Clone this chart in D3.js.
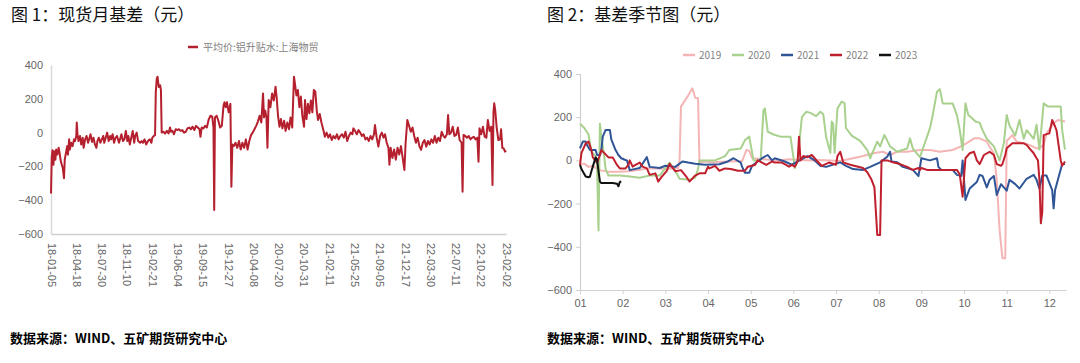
<!DOCTYPE html>
<html lang="zh">
<head>
<meta charset="UTF-8" />
<title>基差图</title>
<script src="https://cdnjs.cloudflare.com/ajax/libs/d3/7.8.5/d3.min.js"></script>
<style>
  html, body { margin: 0; padding: 0; background: #fff; }
  svg { display: block; }
  .title { font-family: "Noto Sans CJK SC", sans-serif; font-size: 17px; fill: #111; }
  .source { font-family: "Noto Sans CJK SC", sans-serif; font-size: 13px; font-weight: bold; fill: #000; }
  .legend { font-family: "Noto Sans CJK SC", "Liberation Sans", sans-serif; font-size: 10px; fill: #7f7f7f; }
  .tick text { font-family: "Liberation Sans", Arial, sans-serif; font-size: 11px; fill: #666; }
</style>
</head>
<body>
<div id="chart"></div>
<script>
// ---- chart 1: 平均价:铝升贴水:上海物贸 ----
const basis = [
  ["2018-01-05",-360],["2018-01-08",-150],["2018-01-11",-105],["2018-01-15",-190],["2018-01-18",-110],
  ["2018-01-23",-160],["2018-01-26",-100],["2018-01-31",-130],["2018-02-05",-90],["2018-02-09",-120],
  ["2018-02-14",-170],["2018-02-22",-210],["2018-02-27",-270],["2018-03-02",-160],["2018-03-07",-120],
  ["2018-03-12",-80],["2018-03-15",-130],["2018-03-20",-40],["2018-03-23",-100],["2018-03-28",-60],
  ["2018-04-03",-80],["2018-04-09",-40],["2018-04-13",-50],["2018-04-18",-20],["2018-04-20",60],
  ["2018-04-23",-10],["2018-04-27",-50],["2018-05-03",-20],["2018-05-08",-70],["2018-05-14",-30],
  ["2018-05-18",-90],["2018-05-24",-40],["2018-05-30",-20],["2018-06-05",-60],["2018-06-11",-30],
  ["2018-06-15",-10],["2018-06-21",-55],["2018-06-27",-30],["2018-07-03",-70],["2018-07-09",-90],
  ["2018-07-13",-50],["2018-07-19",-30],["2018-07-25",-60],["2018-07-31",-40],["2018-08-06",-20],
  ["2018-08-10",-60],["2018-08-16",-30],["2018-08-22",0],["2018-08-28",-50],["2018-09-03",-20],
  ["2018-09-07",-40],["2018-09-13",-10],["2018-09-19",-60],["2018-09-25",-30],["2018-10-01",-20],
  ["2018-10-09",-60],["2018-10-15",-30],["2018-10-19",-10],["2018-10-25",-50],["2018-10-31",-40],
  ["2018-11-06",10],["2018-11-12",-50],["2018-11-16",-20],["2018-11-22",-70],["2018-11-28",-30],
  ["2018-12-04",10],["2018-12-10",-60],["2018-12-14",-20],["2018-12-20",0],["2018-12-26",-50],
  ["2019-01-03",-60],["2019-01-09",-50],["2019-01-15",-60],["2019-01-21",-40],["2019-01-28",-70],
  ["2019-02-04",-50],["2019-02-12",-40],["2019-02-18",-60],["2019-02-22",-30],["2019-02-28",-20],
  ["2019-03-05",-15],["2019-03-08",240],["2019-03-12",320],["2019-03-15",331],["2019-03-20",270],
  ["2019-03-26",280],["2019-03-29",250],["2019-04-01",0],["2019-04-08",5],["2019-04-15",-5],
  ["2019-04-22",10],["2019-04-29",-5],["2019-05-05",30],["2019-05-09",5],["2019-05-15",10],
  ["2019-05-21",-10],["2019-05-28",20],["2019-06-04",15],["2019-06-10",20],["2019-06-17",10],
  ["2019-06-24",15],["2019-07-01",0],["2019-07-08",5],["2019-07-15",25],["2019-07-22",30],
  ["2019-07-29",20],["2019-08-05",35],["2019-08-12",15],["2019-08-19",40],["2019-08-26",30],
  ["2019-09-02",20],["2019-09-06",-25],["2019-09-11",30],["2019-09-18",25],["2019-09-25",40],
  ["2019-10-02",30],["2019-10-10",80],["2019-10-17",100],["2019-10-24",95],["2019-10-29",30],
  ["2019-11-01",-458],["2019-11-04",90],["2019-11-11",100],["2019-11-18",70],["2019-11-25",30],
  ["2019-12-02",40],["2019-12-09",160],["2019-12-13",180],["2019-12-18",150],["2019-12-23",180],
  ["2019-12-30",120],["2020-01-06",170],["2020-01-10",-320],["2020-01-14",-70],["2020-01-20",-80],
  ["2020-01-27",-60],["2020-02-03",-90],["2020-02-10",-50],["2020-02-17",-100],["2020-02-24",-60],
  ["2020-03-02",-90],["2020-03-09",-40],["2020-03-16",-100],["2020-03-23",-50],["2020-03-30",-15],
  ["2020-04-06",0],["2020-04-13",20],["2020-04-20",40],["2020-04-27",65],["2020-05-04",100],
  ["2020-05-11",60],["2020-05-18",232],["2020-05-22",90],["2020-05-27",130],["2020-06-01",90],
  ["2020-06-05",-90],["2020-06-10",193],["2020-06-17",150],["2020-06-24",232],["2020-07-01",190],
  ["2020-07-08",272],["2020-07-13",200],["2020-07-18",100],["2020-07-24",35],["2020-07-30",80],
  ["2020-08-05",25],["2020-08-12",70],["2020-08-18",10],["2020-08-25",60],["2020-09-01",20],
  ["2020-09-07",90],["2020-09-14",30],["2020-09-21",331],["2020-09-25",290],["2020-10-01",220],
  ["2020-10-07",252],["2020-10-13",150],["2020-10-19",213],["2020-10-25",100],["2020-11-01",35],
  ["2020-11-05",193],["2020-11-11",80],["2020-11-17",170],["2020-11-23",114],["2020-11-29",190],
  ["2020-12-05",120],["2020-12-11",252],["2020-12-17",242],["2020-12-23",130],["2020-12-28",75],
  ["2021-01-04",110],["2021-01-11",60],["2021-01-18",20],["2021-01-25",-24],["2021-02-01",0],
  ["2021-02-08",-30],["2021-02-15",-10],["2021-02-22",-44],["2021-03-01",-20],["2021-03-08",-35],
  ["2021-03-15",-10],["2021-03-22",-40],["2021-03-29",-20],["2021-04-05",-10],["2021-04-12",-30],
  ["2021-04-19",5],["2021-04-26",-50],["2021-05-03",-20],["2021-05-10",0],["2021-05-17",-10],
  ["2021-05-21",25],["2021-05-28",10],["2021-06-04",-10],["2021-06-11",15],["2021-06-18",0],
  ["2021-06-25",-20],["2021-07-02",-10],["2021-07-09",-40],["2021-07-16",-30],["2021-07-23",-50],
  ["2021-07-30",-20],["2021-08-06",-40],["2021-08-13",-10],["2021-08-17",45],["2021-08-24",-30],
  ["2021-08-31",-83],["2021-09-07",-20],["2021-09-14",0],["2021-09-21",-30],["2021-09-27",-10],
  ["2021-10-04",-60],["2021-10-11",-90],["2021-10-15",-190],["2021-10-20",-90],["2021-10-27",-150],
  ["2021-11-03",-100],["2021-11-10",-160],["2021-11-17",-90],["2021-11-24",-130],["2021-12-01",-80],
  ["2021-12-08",-150],["2021-12-15",-221],["2021-12-20",-60],["2021-12-27",75],["2022-01-03",40],
  ["2022-01-10",5],["2022-01-17",30],["2022-01-24",-20],["2022-01-31",-60],["2022-02-07",-30],
  ["2022-02-14",-80],["2022-02-21",-102],["2022-02-28",-60],["2022-03-07",-44],["2022-03-14",-83],
  ["2022-03-21",-50],["2022-03-28",-70],["2022-04-04",-40],["2022-04-11",-60],["2022-04-18",-20],
  ["2022-04-25",-60],["2022-05-02",-30],["2022-05-09",-50],["2022-05-16",5],["2022-05-23",-20],
  ["2022-05-30",-30],["2022-06-06",-10],["2022-06-11",104],["2022-06-16",-10],["2022-06-23",0],
  ["2022-06-30",35],["2022-07-07",-20],["2022-07-14",-14],["2022-07-21",30],["2022-07-28",-44],
  ["2022-08-05",-60],["2022-08-09",-350],["2022-08-13",-14],["2022-08-20",-20],["2022-08-27",-30],
  ["2022-09-03",-20],["2022-09-10",-40],["2022-09-17",-30],["2022-09-24",-25],["2022-10-01",-40],
  ["2022-10-08",-30],["2022-10-13",-172],["2022-10-17",25],["2022-10-24",-10],["2022-10-31",35],
  ["2022-11-07",-24],["2022-11-14",-30],["2022-11-20",75],["2022-11-27",10],["2022-12-04",35],
  ["2022-12-09",-310],["2022-12-13",120],["2022-12-16",173],["2022-12-20",135],["2022-12-26",30],
  ["2023-01-02",-44],["2023-01-09",-40],["2023-01-13",20],["2023-01-18",-90],["2023-01-24",-95],
  ["2023-01-29",-113],["2023-02-02",-105]
];
const basisLabel = "平均价:铝升贴水:上海物贸";

// ---- chart 2: seasonal, "MM-DD" per year ----
const years = ["2019", "2020", "2021", "2022", "2023"];
const yearColors = ["#f5b5b5", "#a9d18e", "#2f5597", "#c0202e", "#111111"];
const s2019 = [
  ["01-01",-20],["01-04",-15],["01-07",-30],["01-10",-25],["01-12",-35],["01-15",-45],["01-20",-52],
  ["01-28",-52],["02-05",-50],["02-12",-45],["02-18",-38],["02-25",-37],["03-02",-40],["03-10",-35],
  ["03-11",0],["03-12",249],["03-17",300],["03-20",334],["03-22",290],["03-24",288],["03-25",-10],
  ["03-28",-5],["04-05",-8],["04-15",-5],["04-25",-3],["04-28",48],["04-30",45],["05-02",10],
  ["05-10",5],["05-20",0],["05-28",5],["06-05",2],["06-15",0],["06-20",2],["07-04",-3],["07-13",10],
  ["07-20",20],["07-27",33],["08-04",40],["08-09",25],["08-14",40],["08-21",40],["08-30",48],
  ["09-07",48],["09-14",40],["09-23",48],["09-28",63],["10-03",80],["10-08",102],["10-12",102],
  ["10-17",87],["10-19",63],["10-22",33],["10-24",-90],["10-26",-322],["10-28",-453],["10-30",-453],
  ["11-01",90],["11-05",117],["11-08",87],["11-13",80],["11-17",72],["11-22",56],["11-24",56],
  ["11-27",72],["11-29",125],["12-04",172],["12-07",187],["12-12",180]
];
const s2020 = [
  ["01-01",170],["01-04",150],["01-07",120],["01-09",40],["01-12",20],["01-13",-20],["01-14",-325],
  ["01-15",170],["01-16",110],["01-18",20],["01-19",-40],["01-21",-70],["01-29",-70],["02-06",-75],
  ["02-13",-80],["02-20",-70],["02-27",-70],["03-04",-10],["03-09",-60],["03-11",-85],["03-18",-90],
  ["03-22",-80],["03-24",-40],["03-25",0],["04-06",0],["04-13",20],["04-16",48],["04-24",55],
  ["04-27",94],["04-30",110],["05-03",0],["05-08",0],["05-10",233],["05-11",240],["05-13",133],
  ["05-17",120],["05-22",110],["05-29",110],["05-31",15],["06-02",-36],["06-04",0],["06-07",200],
  ["06-10",225],["06-13",220],["06-17",205],["06-20",225],["06-22",215],["06-24",110],["06-27",35],
  ["06-28",180],["06-29",170],["06-30",35],["07-02",240],["07-05",272],["07-07",265],["07-08",150],
  ["07-12",115],["07-18",90],["07-23",48],["07-25",10],["07-30",87],["08-02",65],["08-05",118],
  ["08-09",65],["08-14",40],["08-21",55],["08-23",102],["08-25",55],["08-30",15],["09-05",110],
  ["09-07",148],["09-09",210],["09-12",318],["09-14",330],["09-16",264],["09-23",264],["09-26",210],
  ["09-28",140],["09-30",48],["10-02",264],["10-04",210],["10-06",200],["10-09",180],["10-12",175],
  ["10-14",140],["10-17",100],["10-22",65],["10-26",0],["10-29",80],["11-01",210],["11-03",160],
  ["11-07",115],["11-10",187],["11-13",100],["11-15",140],["11-20",100],["11-22",165],["11-24",50],
  ["11-27",264],["11-30",249],["12-09",249],["12-10",140],["12-12",50]
];
const s2021 = [
  ["01-01",56],["01-03",87],["01-05",87],["01-06",70],["01-08",48],["01-12",48],["01-13",25],
  ["01-15",25],["01-16",48],["01-17",110],["01-19",141],["01-22",141],["01-23",97],["01-26",48],
  ["01-28",25],["01-30",10],["02-03",2],["02-04",0],["02-06",-45],["02-13",-35],["02-18",15],
  ["02-20",-30],["02-27",-35],["03-01",-25],["03-08",-30],["03-13",-5],["03-17",-10],["03-22",-15],
  ["03-29",-20],["04-09",-18],["04-15",-5],["04-19",10],["04-24",-10],["04-25",-30],["04-27",-57],
  ["04-30",-57],["05-02",-25],["05-05",-10],["05-09",10],["05-13",25],["05-16",0],["05-18",10],
  ["05-25",-5],["05-30",-20],["06-04",-5],["06-11",20],["06-16",0],["06-20",-25],["06-24",-30],
  ["07-04",-9],["07-08",-25],["07-13",-40],["07-20",-44],["07-25",-30],["08-02",-9],["08-07",17],
  ["08-09",40],["08-10",-5],["08-14",-9],["08-18",-30],["08-25",-44],["08-29",-72],["09-01",10],
  ["09-07",0],["09-12",10],["09-13",-30],["09-15",-44],["09-23",-44],["09-26",-67],["09-29",-72],
  ["09-30",0],["10-02",-183],["10-05",-130],["10-10",-100],["10-12",-67],["10-14",-72],["10-17",-125],
  ["10-19",-90],["10-22",-72],["10-24",-160],["10-27",-110],["11-01",-140],["11-03",-90],["11-07",-110],
  ["11-10",-130],["11-15",-85],["11-20",-67],["11-22",-90],["11-24",-130],["11-26",-70],["11-29",-70],
  ["12-03",-138],["12-04",-222],["12-05",-138],["12-07",-90],["12-10",-17],["12-12",-17]
];
const s2022 = [
  ["01-01",-21],["01-02",34],["01-05",79],["01-07",87],["01-09",48],["01-10",14],["01-13",-10],
  ["01-15",25],["01-16",48],["01-18",35],["01-21",14],["01-24",14],["01-27",-21],["01-29",-37],
  ["02-03",-37],["02-05",-21],["02-06",0],["02-08",-29],["02-10",-21],["02-13",-10],["02-15",-29],
  ["02-18",-37],["02-20",-67],["02-24",-60],["02-26",-98],["02-28",-80],["03-02",-48],["03-04",-15],
  ["03-05",-25],["03-08",-50],["03-12",-45],["03-16",-78],["03-18",-98],["03-22",-70],["03-25",-60],
  ["03-29",-60],["04-01",-29],["04-02",-37],["04-06",-25],["04-09",-48],["04-13",-37],["04-17",-40],
  ["04-22",-48],["04-27",-48],["04-29",-29],["05-04",-21],["05-06",0],["05-09",-10],["05-12",-21],
  ["05-16",-5],["05-18",-10],["05-23",-10],["05-28",-29],["05-30",-21],["06-02",-29],["06-04",-5],
  ["06-05",110],["06-06",0],["06-08",20],["06-11",15],["06-14",25],["06-18",-5],["06-21",-25],
  ["06-26",-10],["07-01",-20],["07-02",20],["07-04",40],["07-06",-9],["07-11",-20],["07-20",-35],
  ["07-23",-55],["07-26",-90],["07-28",-125],["07-30",-345],["08-02",-345],["08-03",0],["08-07",0],
  ["08-11",-9],["08-16",-17],["08-21",-30],["08-25",-44],["08-29",-35],["08-30",-44],["09-01",-35],
  ["09-05",-44],["09-26",-44],["09-28",-65],["09-30",-168],["10-02",10],["10-05",33],["10-08",40],
  ["10-10",0],["10-12",-17],["10-15",25],["10-19",40],["10-22",25],["10-24",-17],["10-27",-25],
  ["10-28",-17],["10-30",25],["11-01",56],["11-05",79],["11-13",79],["11-15",72],["11-17",56],
  ["11-20",33],["11-22",10],["11-23",0],["11-24",-90],["11-25",-291],["11-26",-240],["11-27",117],
  ["12-01",125],["12-03",187],["12-05",157],["12-06",140],["12-09",0],["12-10",-25],["12-12",-5]
];
const s2023 = [
  ["01-01",-21],["01-02",-40],["01-05",-75],["01-07",-78],["01-08",-75],["01-09",-50],["01-10",-29],
  ["01-12",14],["01-13",5],["01-14",-50],["01-15",-98],["01-16",-105],["01-21",-105],["01-24",-105],
  ["01-27",-108],["01-28",-120],["01-29",-100],["01-30",-98]
];
const seasonal = [s2019, s2020, s2021, s2022, s2023];
const monthLabels = ["01","02","03","04","05","06","07","08","09","10","11","12"];
const yTicks = [400, 200, 0, -200, -400, -600];

const svg = d3.select("#chart").append("svg")
  .attr("width", 1080).attr("height", 363);

// titles and sources
svg.append("text").attr("class", "title").attr("x", 11).attr("y", 21).text("图 1：现货月基差（元）");
svg.append("text").attr("class", "title").attr("x", 547).attr("y", 21).text("图 2：基差季节图（元）");
svg.append("text").attr("class", "source").attr("x", 10).attr("y", 343).text("数据来源：WIND、五矿期货研究中心");
svg.append("text").attr("class", "source").attr("x", 547).attr("y", 343).text("数据来源：WIND、五矿期货研究中心");

// ---------- chart 1 ----------
const parse = d3.timeParse("%Y-%m-%d");
const t0 = parse("2018-01-05");
const x1 = d3.scaleTime().domain([t0, parse("2023-02-02")]).range([51, 506]);
const y1 = d3.scaleLinear().domain([-600, 400]).range([234, 65]);

const g1 = svg.append("g");
g1.append("g").attr("class", "axis")
  .attr("transform", "translate(51,0)")
  .call(d3.axisLeft(y1).tickValues(yTicks).tickSize(0).tickPadding(8))
  .call(g => g.select(".domain").attr("stroke", "#d9d9d9").attr("stroke-width", 1.5));

const dateTicks = d3.range(19).map(i => d3.timeDay.offset(t0, i * 103));
g1.append("g").attr("class", "axis")
  .attr("transform", "translate(0,234)")
  .call(d3.axisBottom(x1).tickValues(dateTicks).tickFormat(d3.timeFormat("%y-%m-%d")).tickSize(0))
  .call(g => g.select(".domain").attr("stroke", "#d0d0d0").attr("stroke-width", 1.5))
  .call(g => g.selectAll(".tick text")
    .attr("transform", "rotate(90)")
    .attr("text-anchor", "start")
    .attr("x", 9).attr("y", 0).attr("dy", "0.35em"));

g1.append("path")
  .datum(basis)
  .attr("fill", "none")
  .attr("stroke", "#b5202e")
  .attr("stroke-width", 2)
  .attr("stroke-linejoin", "round")
  .attr("d", d3.line().x(d => x1(parse(d[0]))).y(d => y1(d[1])));

g1.append("line").attr("x1", 188).attr("x2", 198).attr("y1", 47).attr("y2", 47)
  .attr("stroke", "#b5202e").attr("stroke-width", 2.5);
g1.append("text").attr("class", "legend").attr("x", 203).attr("y", 50.5).text(basisLabel);

// ---------- chart 2 ----------
const toMonth = s => {
  const [m, d] = s.split("-").map(Number);
  return (m - 1) + (d - 1) / 30;
};
const x2 = d3.scaleLinear().domain([0, 11.39]).range([580, 1066]);
const y2 = d3.scaleLinear().domain([-600, 400]).range([290, 74]);

const g2 = svg.append("g");
g2.append("g").attr("class", "axis")
  .attr("transform", "translate(580,0)")
  .call(d3.axisLeft(y2).tickValues(yTicks).tickSize(4).tickPadding(4))
  .call(g => g.select(".domain").attr("stroke", "#d0d0d0").attr("stroke-width", 1.2))
  .call(g => g.selectAll(".tick line").attr("stroke", "#d0d0d0"));

g2.append("g").attr("class", "axis")
  .attr("transform", "translate(0,290)")
  .call(d3.axisBottom(x2).tickValues(d3.range(12)).tickFormat(i => monthLabels[i]).tickSize(4).tickSizeOuter(0).tickPadding(5))
  .call(g => g.select(".domain").attr("stroke", "#d0d0d0").attr("stroke-width", 1.2))
  .call(g => g.selectAll(".tick line").attr("stroke", "#d0d0d0"));

const line2 = d3.line().x(d => x2(toMonth(d[0]))).y(d => y2(d[1]));
seasonal.forEach((s, i) => {
  g2.append("path")
    .datum(s)
    .attr("fill", "none")
    .attr("stroke", yearColors[i])
    .attr("stroke-width", 2)
    .attr("stroke-linejoin", "round")
    .attr("d", line2);
});

years.forEach((yr, i) => {
  const lx = 683 + i * 49;
  g2.append("line").attr("x1", lx).attr("x2", lx + 12).attr("y1", 55).attr("y2", 55)
    .attr("stroke", yearColors[i]).attr("stroke-width", 2.5);
  g2.append("text").attr("class", "legend").attr("x", lx + 16).attr("y", 58.5).text(yr);
});
</script>
</body>
</html>
